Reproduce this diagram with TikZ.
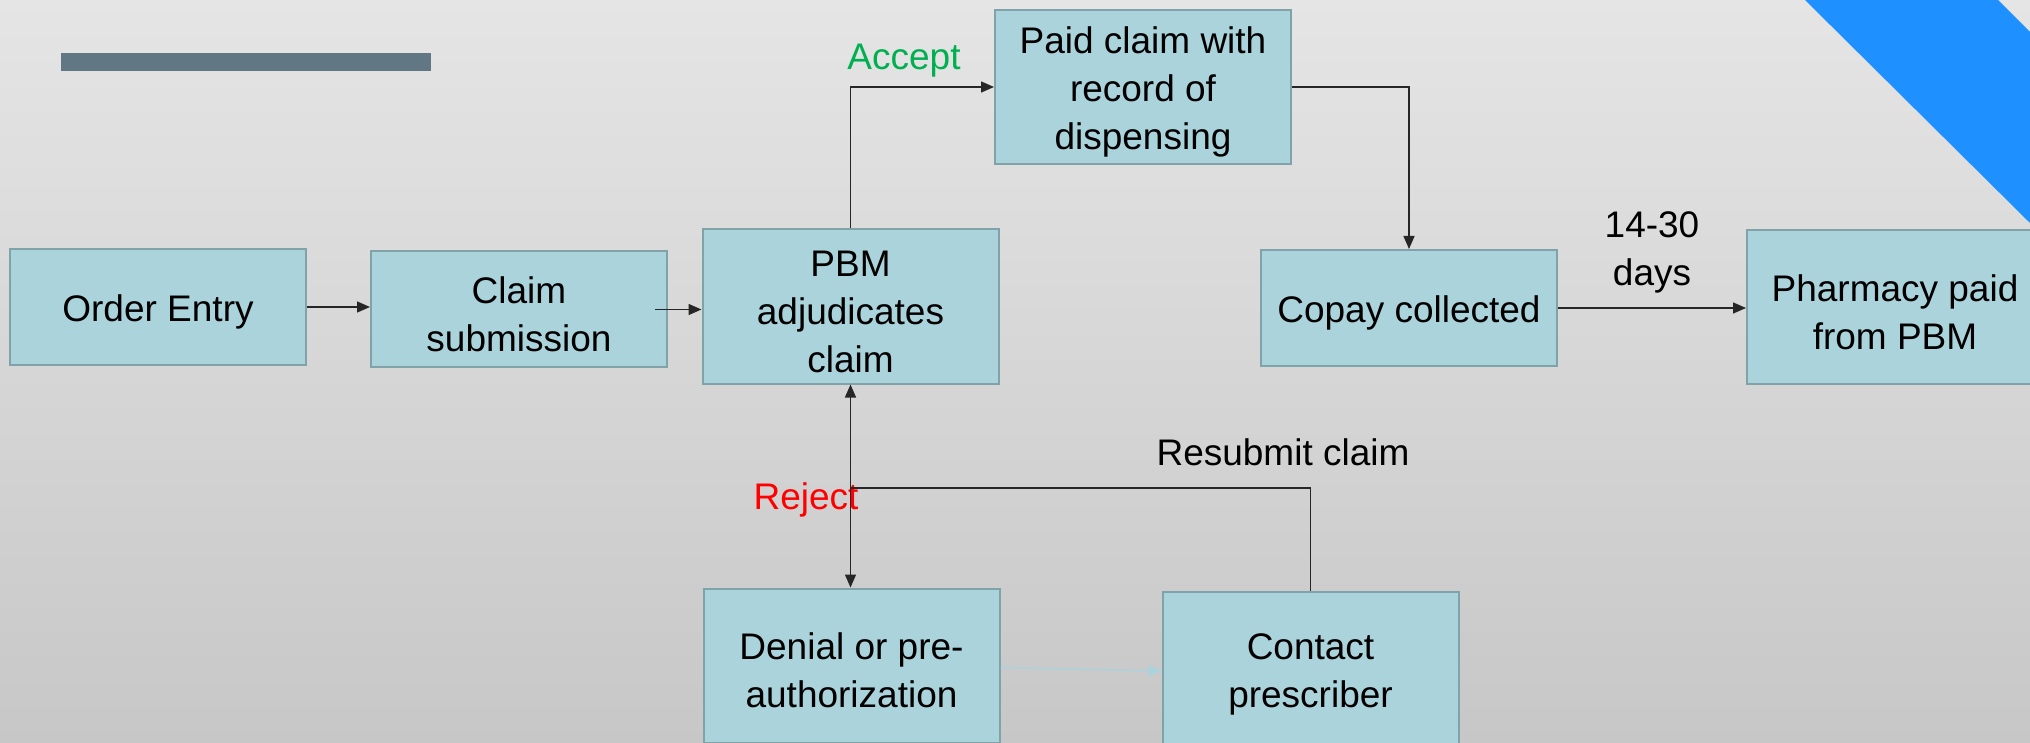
\documentclass[tikz,border=0pt]{standalone}
\usepackage{fontspec}
\setmainfont{Liberation Sans}
\usetikzlibrary{arrows.meta}

\definecolor{bgtop}{RGB}{229,229,229}
\definecolor{bgmid}{RGB}{219,219,219}
\definecolor{bgbot}{RGB}{199,199,199}
\definecolor{boxfill}{RGB}{170,211,219}
\definecolor{boxline}{RGB}{128,163,170}
\definecolor{barcol}{RGB}{97,120,132}
\definecolor{cornerblue}{RGB}{30,144,255}
\definecolor{acceptgreen}{RGB}{0,176,80}

% taller first line, sets the text a little lower in its box
\newcommand{\firstline}{\rule{0pt}{18.5pt}}

\begin{document}
\begin{tikzpicture}[x=0.5pt,y=-0.5pt,
  stage/.style={draw=boxline,line width=1pt,fill=boxfill,align=center,
    inner sep=0pt,minimum width=148pt,font=\fontsize{18.5}{24}\selectfont},
  short/.style={stage,minimum height=58pt},
  tall/.style={stage,minimum height=77pt},
  flow/.style={draw=black!85,line width=0.7pt,-{Triangle[length=6.5pt,width=5.5pt]}},
  faint/.style={draw=boxfill,line width=0.7pt,-{Triangle[length=6.5pt,width=5.5pt]}},
  tag/.style={font=\fontsize{18.5}{24}\selectfont,align=center,inner sep=0pt}]
  \useasboundingbox (0,0) rectangle (2030,743);
  \clip (0,0) rectangle (2030,743);
  % slide background
  \shade[top color=bgtop,middle color=bgmid,bottom color=bgbot] (0,0) rectangle (2030,743);
  \fill[barcol] (61,53) rectangle (431,71);
  \fill[cornerblue] (1805,0) -- (1998,0) -- (2030,32) -- (2030,223) -- cycle;
  % process steps
  \node[short] (order) at (158,307) {\firstline Order Entry};
  \node[short] (claim) at (519,309.5) {\firstline Claim\\submission};
  \node[tall] (pbm) at (850.5,306.5) {\firstline PBM\\adjudicates\\claim};
  \node[tall] (paid) at (1143,87) {\firstline Paid claim with\\record of\\dispensing};
  \node[short] (copay) at (1409,308) {\firstline Copay collected};
  \node[tall] (pharm) at (1895,307) {\firstline Pharmacy paid\\from PBM};
  \node[tall] (denial) at (851.5,665.5) {\firstline Denial or pre-\\authorization};
  \node[tall] (contact) at (1310.5,669) {\firstline Contact\\prescriber};
  % labels
  \node[tag,text=acceptgreen] (accept) at (904,61) {Accept};
  \node[tag,text=red] (reject) at (806,500) {Reject};
  \node[tag] (resubmit) at (1283,452) {Resubmit claim};
  \node[tag] (days) at (1652,252) {14-30\\days};
  \coordinate (turn) at (1310.5,488);
  % connectors
  \draw[flow] (order.east) -- (order.east -| claim.west);
  \draw[flow] ([xshift=-6.5pt]claim.east) -- (claim.east -| pbm.west);
  \draw[flow] (pbm.north) |- (paid.west);
  \draw[flow] (paid.east) -| (copay.north);
  \draw[flow] (copay.east) -- (copay.east -| pharm.west);
  \draw[flow] (pbm.south) -- (pbm.south |- denial.north);
  \draw[flow] (contact.north) -- (turn) -| (pbm.south);
  \draw[faint] ([yshift=-1pt]denial.east) -- ([yshift=-1pt]contact.west);
\end{tikzpicture}
\end{document}
